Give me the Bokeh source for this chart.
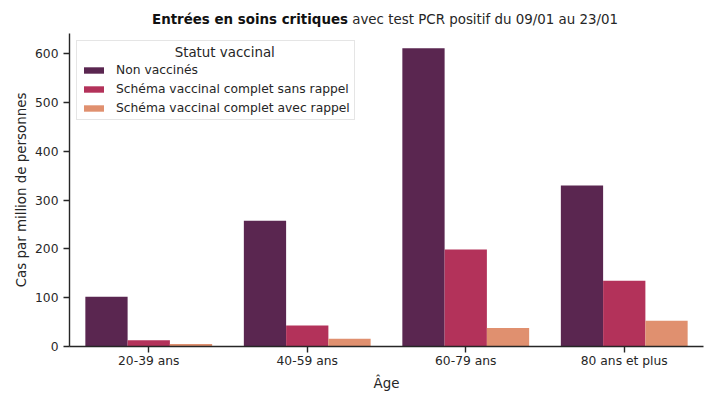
from bokeh.plotting import figure
from bokeh.layouts import column
from bokeh.models import FactorRange, Range1d, Legend, LegendItem, ColumnDataSource, FixedTicker, Div
from bokeh.transform import dodge
from bokeh.embed import file_html
from bokeh.resources import INLINE

categories = ["20-39 ans", "40-59 ans", "60-79 ans", "80 ans et plus"]
non_vaccines = [102, 258, 612, 330]
sans_rappel = [13, 43, 199, 135]
avec_rappel = [5, 16, 38, 53]
series_names = ["Non vaccinés", "Schéma vaccinal complet sans rappel", "Schéma vaccinal complet avec rappel"]
colors = ["#5A2650", "#B3325A", "#E0906F"]
y_ticks = [0, 100, 200, 300, 400, 500, 600]
title_bold = "Entrées en soins critiques"
title_rest = "avec test PCR positif du 09/01 au 23/01"
x_label = "Âge"
y_label = "Cas par million de personnes"
legend_title = "Statut vaccinal"

source = ColumnDataSource(dict(cat=categories, nv=non_vaccines, sr=sans_rappel, ar=avec_rappel))

title_div = Div(
    text=('<div style="font-family: \'DejaVu Sans\'; font-size: 13.4px; color: #262626; '
          'line-height: 1; padding-top: 13px; padding-left: 152px; white-space: nowrap;">'
          '<b style="color:#111111">' + title_bold + '</b> ' + title_rest + '</div>'),
    width=711, height=33, margin=(0, 0, 0, 0))

p = figure(width=711, height=360, x_range=FactorRange(*categories, range_padding=0),
           y_range=Range1d(0, 642), output_backend="svg", toolbar_location=None,
           min_border_left=69, min_border_right=8, min_border_top=0, min_border_bottom=47,
           margin=(0, 0, 0, 0))

bw = 0.8 / 3
cols = ["nv", "sr", "ar"]
offsets = [-bw, 0, bw]
items = []
for col, off, c, name in zip(cols, offsets, colors, series_names):
    r = p.vbar(x=dodge("cat", off, range=p.x_range), top=col, width=bw, source=source,
               fill_color=c, line_color=None)
    items.append(LegendItem(label=name, renderers=[r]))

legend = Legend(items=items, location="top_left", title="\u00a0" * 22 + legend_title,
                title_text_font="DejaVu Sans", title_text_font_size="13.4px",
                title_text_font_style="normal", title_text_color="#262626", title_standoff=3,
                label_text_font="DejaVu Sans", label_text_font_size="12.3px", label_text_color="#262626",
                glyph_width=25, glyph_height=8, label_height=12, spacing=5, padding=4, margin=7,
                label_standoff=10, border_line_color="#cccccc", border_line_width=1,
                background_fill_alpha=0.8)
p.add_layout(legend)

for ax in (p.xaxis[0], p.yaxis[0]):
    ax.axis_line_color = "#262626"
    ax.axis_line_width = 1.4
    ax.major_tick_line_color = "#262626"
    ax.major_tick_line_width = 1.4
    ax.major_tick_out = 6
    ax.major_tick_in = 0
    ax.minor_tick_line_color = None
    ax.major_label_text_font = "DejaVu Sans"
    ax.major_label_text_font_size = "12.3px"
    ax.major_label_text_color = "#262626"
    ax.axis_label_text_font = "DejaVu Sans"
    ax.axis_label_text_font_size = "13.4px"
    ax.axis_label_text_font_style = "normal"
    ax.axis_label_text_color = "#262626"

p.xaxis.axis_label = x_label
p.yaxis.axis_label = y_label
p.yaxis.ticker = FixedTicker(ticks=y_ticks)
p.xaxis.major_label_standoff = 1
p.yaxis.major_label_standoff = 5
p.xaxis.axis_label_standoff = 5
p.yaxis.axis_label_standoff = 3

p.grid.visible = False
p.outline_line_color = None

layout = column(title_div, p, spacing=0)
open("out.html", "w").write(file_html(layout, INLINE))
